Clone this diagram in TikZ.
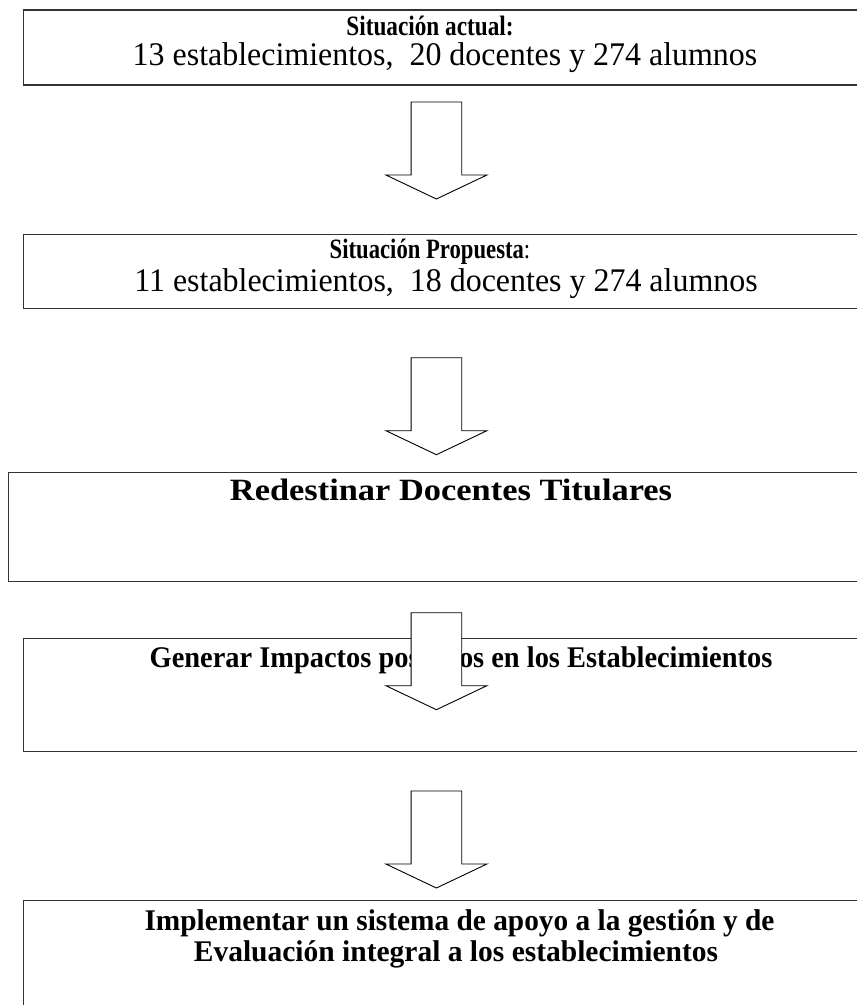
\documentclass[tikz,border=0pt]{standalone}
\usepackage{graphicx}
\usepackage{fontspec}
\setmainfont{Liberation Serif}
\begin{document}
\begin{tikzpicture}[x=1pt,y=-1pt,
  box/.style={draw=black!80, line width=1.2pt, anchor=north west, inner sep=0pt, minimum width=860},
  ttl/.style={font=\fontsize{28}{31}\selectfont\bfseries, anchor=base, inner sep=0pt},
  ttlb/.style={font=\fontsize{30}{33}\selectfont\bfseries, anchor=base, inner sep=0pt},
  txt/.style={font=\fontsize{33}{36}\selectfont, anchor=base, inner sep=0pt},
  arr/.style={draw=black, line width=0.9pt, fill=white, line join=miter},
  downarrow/.pic={\draw[arr] (-25.3,0) -- (25.3,0) -- (25.3,73) -- (50.5,73) -- (0,97) -- (-50.5,73) -- (-25.3,73) -- cycle;}]
\useasboundingbox (0,0) rectangle (857,1005);
\clip (0,0) rectangle (857,1005);
% boxes
\node[box, minimum height=75] (b1) at (22.7,9.3) {};
\node[box, minimum height=74] (b2) at (23,234) {};
\node[box, minimum height=109, minimum width=875] (b3) at (8,472) {};
\node[box, minimum height=113] (b4) at (23,638) {};
\node[box, minimum height=130] (b5) at (23,900) {};
% texts
\node[ttl] (t1) at (430,35) {\scalebox{0.83}[1]{Situación actual:}};
\node[txt] (t1b) at (445,65) {\scalebox{0.968}[1]{13 establecimientos,\ \ 20 docentes y 274 alumnos}};
\node[ttl] (t2) at (430,258) {\scalebox{0.81}[1]{Situación Propuesta\mdseries:}};
\node[txt] (t2b) at (446,291) {\scalebox{0.968}[1]{11 establecimientos,\ \ 18 docentes y 274 alumnos}};
\node[ttlb, font=\fontsize{31}{34}\selectfont\bfseries] (t3) at (451,500) {\scalebox{1.11}[1]{Redestinar Docentes Titulares}};
\node[ttlb] (t4) at (461,667) {\scalebox{0.947}[1]{Generar Impactos positivos en los Establecimientos}};
\node[ttlb] (t5) at (459.5,930) {\scalebox{0.978}[1]{Implementar un sistema de apoyo a la gestión y de}};
\node[ttlb] (t5b) at (456,961) {\scalebox{0.983}[1]{Evaluación integral a los establecimientos}};
% arrows
\coordinate (a1) at (436.4,102);
\coordinate (a2) at (436.4,357.7);
\coordinate (a3) at (436.4,612.7);
\coordinate (a4) at (436.4,791);
\pic at (a1) {downarrow};
\pic at (a2) {downarrow};
\pic at (a3) {downarrow};
\pic at (a4) {downarrow};
\end{tikzpicture}
\end{document}
